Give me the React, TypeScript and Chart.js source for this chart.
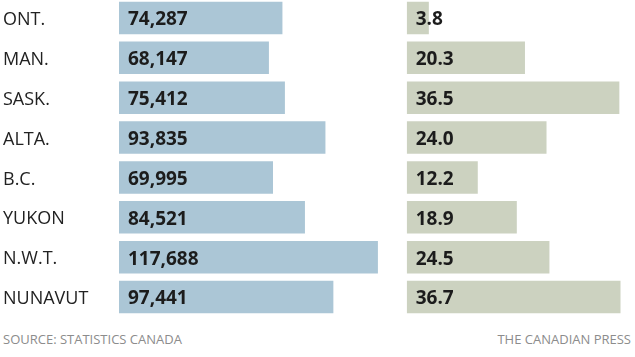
import React, { useEffect, useRef } from "react";
import { Chart, registerables } from "chart.js";

Chart.register(...registerables);

const provinces = ["ONT.", "MAN.", "SASK.", "ALTA.", "B.C.", "YUKON", "N.W.T.", "NUNAVUT"];
const incomeValues = [74287, 68147, 75412, 93835, 69995, 84521, 117688, 97441];
const rateValues = [3.8, 20.3, 36.5, 24.0, 12.2, 18.9, 24.5, 36.7];
const sourceText = "SOURCE: STATISTICS CANADA";
const creditText = "THE CANADIAN PRESS";

const FONT = "'Open Sans', 'DejaVu Sans', sans-serif";

function valueLabelPlugin(format: (v: number) => string, withCategories: boolean) {
  return {
    id: "valueLabels",
    afterDatasetsDraw(chart: any) {
      const ctx = chart.ctx;
      ctx.save();
      ctx.textAlign = "left";
      ctx.textBaseline = "middle";
      const meta = chart.getDatasetMeta(0);
      const data = chart.data.datasets[0].data as number[];
      const labels = chart.data.labels as string[];
      meta.data.forEach((el: any, i: number) => {
        ctx.font = `bold 19px ${FONT}`;
        ctx.fillStyle = "#1c1c1c";
        ctx.fillText(format(data[i]), el.base + 9, el.y + 2);
        if (withCategories) {
          ctx.font = `18px ${FONT}`;
          ctx.fillStyle = "#222222";
          ctx.fillText(labels[i], 3, el.y + 2);
        }
      });
      ctx.restore();
    },
  };
}

export default function App() {
  const leftRef = useRef<HTMLCanvasElement>(null);
  const rightRef = useRef<HTMLCanvasElement>(null);

  useEffect(() => {
    const left = new Chart(leftRef.current!, {
      type: "bar",
      data: {
        labels: provinces,
        datasets: [
          {
            data: incomeValues,
            backgroundColor: "#abc6d6",
            categoryPercentage: 1,
            barPercentage: 0.815,
          },
        ],
      },
      options: {
        indexAxis: "y",
        animation: false,
        responsive: false,
        maintainAspectRatio: false,
        layout: { padding: { left: 119, right: 6, top: 0, bottom: 0 } },
        plugins: { legend: { display: false }, tooltip: { enabled: false } },
        scales: {
          x: { display: false, min: 0, max: 125000 },
          y: { display: false },
        },
      },
      plugins: [valueLabelPlugin((v) => v.toLocaleString("en-US"), true)],
    } as any);

    const right = new Chart(rightRef.current!, {
      type: "bar",
      data: {
        labels: provinces,
        datasets: [
          {
            data: rateValues,
            backgroundColor: "#ccd2c0",
            categoryPercentage: 1,
            barPercentage: 0.815,
          },
        ],
      },
      options: {
        indexAxis: "y",
        animation: false,
        responsive: false,
        maintainAspectRatio: false,
        layout: { padding: { left: 6.7, right: 4, top: 0, bottom: 0 } },
        plugins: { legend: { display: false }, tooltip: { enabled: false } },
        scales: {
          x: { display: false, min: 0, max: 38.5 },
          y: { display: false },
        },
      },
      plugins: [valueLabelPlugin((v) => v.toFixed(1), false)],
    } as any);

    return () => {
      left.destroy();
      right.destroy();
    };
  }, []);

  const footStyle: React.CSSProperties = {
    position: "absolute",
    top: 333,
    fontFamily: FONT,
    fontSize: 13,
    lineHeight: "13px",
    color: "#8c8c8c",
    whiteSpace: "nowrap",
  };

  return (
    <div
      style={{
        position: "absolute",
        left: 0,
        top: 0,
        width: 635,
        height: 357,
        background: "#ffffff",
        overflow: "hidden",
      }}
    >
      <canvas
        ref={leftRef}
        width={400}
        height={319}
        style={{ position: "absolute", left: 0, top: -2, width: 400, height: 319 }}
      />
      <canvas
        ref={rightRef}
        width={235}
        height={319}
        style={{ position: "absolute", left: 400, top: -2, width: 235, height: 319 }}
      />
      <div style={{ ...footStyle, left: 3 }}>{sourceText}</div>
      <div style={{ ...footStyle, right: 4 }}>{creditText}</div>
    </div>
  );
}
